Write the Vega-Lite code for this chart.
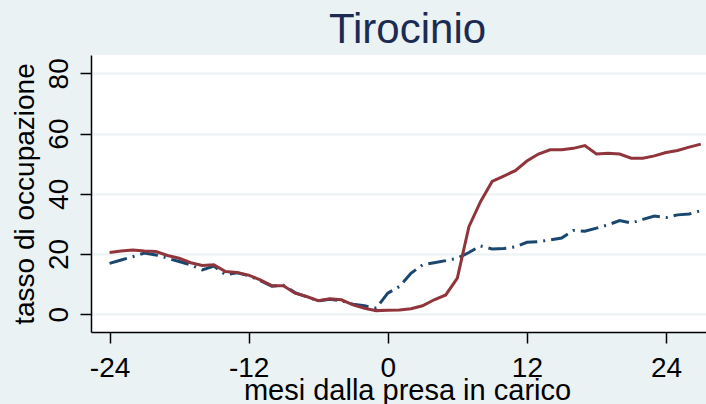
{
  "$schema": "https://vega.github.io/schema/vega-lite/v6.json",
  "width": 615,
  "height": 277,
  "autosize": {"type": "none"},
  "padding": {"left": 91, "top": 55, "right": 0, "bottom": 72},
  "background": "#EAF2F3",
  "view": {"fill": "white", "stroke": null},
  "title": {"text": "Tirocinio", "font": "Liberation Sans", "fontSize": 42, "fontWeight": "normal", "color": "#1C2B52", "dx": 9, "offset": 3, "anchor": "middle"},
  "config": {
    "axis": {
      "labelFont": "Liberation Sans", "titleFont": "Liberation Sans",
      "labelFontSize": 28, "titleFontSize": 28, "titleFontWeight": "normal",
      "labelColor": "black", "titleColor": "black",
      "domainColor": "black", "domainWidth": 1.5,
      "tickColor": "black", "tickWidth": 1.5, "tickSize": 11
    }
  },
  "data": {
    "values": [
      {"mese": -24, "gruppo": "controllo", "tasso": 16.9},
      {"mese": -23, "gruppo": "controllo", "tasso": 18.0},
      {"mese": -22, "gruppo": "controllo", "tasso": 19.1},
      {"mese": -21, "gruppo": "controllo", "tasso": 20.3},
      {"mese": -20, "gruppo": "controllo", "tasso": 19.7},
      {"mese": -19, "gruppo": "controllo", "tasso": 18.6},
      {"mese": -18, "gruppo": "controllo", "tasso": 17.5},
      {"mese": -17, "gruppo": "controllo", "tasso": 16.4},
      {"mese": -16, "gruppo": "controllo", "tasso": 14.7},
      {"mese": -15, "gruppo": "controllo", "tasso": 16.0},
      {"mese": -14, "gruppo": "controllo", "tasso": 13.1},
      {"mese": -13, "gruppo": "controllo", "tasso": 13.8},
      {"mese": -12, "gruppo": "controllo", "tasso": 12.8},
      {"mese": -11, "gruppo": "controllo", "tasso": 11.2},
      {"mese": -10, "gruppo": "controllo", "tasso": 9.3},
      {"mese": -9, "gruppo": "controllo", "tasso": 9.6},
      {"mese": -8, "gruppo": "controllo", "tasso": 7.2},
      {"mese": -7, "gruppo": "controllo", "tasso": 5.8},
      {"mese": -6, "gruppo": "controllo", "tasso": 4.4},
      {"mese": -5, "gruppo": "controllo", "tasso": 5.0},
      {"mese": -4, "gruppo": "controllo", "tasso": 4.5},
      {"mese": -3, "gruppo": "controllo", "tasso": 3.3},
      {"mese": -2, "gruppo": "controllo", "tasso": 2.8},
      {"mese": -1, "gruppo": "controllo", "tasso": 2.0},
      {"mese": 0, "gruppo": "controllo", "tasso": 7.0},
      {"mese": 1, "gruppo": "controllo", "tasso": 9.2},
      {"mese": 2, "gruppo": "controllo", "tasso": 13.6},
      {"mese": 3, "gruppo": "controllo", "tasso": 16.4},
      {"mese": 4, "gruppo": "controllo", "tasso": 17.1},
      {"mese": 5, "gruppo": "controllo", "tasso": 17.8},
      {"mese": 6, "gruppo": "controllo", "tasso": 18.6},
      {"mese": 7, "gruppo": "controllo", "tasso": 20.5},
      {"mese": 8, "gruppo": "controllo", "tasso": 22.7},
      {"mese": 9, "gruppo": "controllo", "tasso": 21.7},
      {"mese": 10, "gruppo": "controllo", "tasso": 21.8},
      {"mese": 11, "gruppo": "controllo", "tasso": 22.4},
      {"mese": 12, "gruppo": "controllo", "tasso": 23.9},
      {"mese": 13, "gruppo": "controllo", "tasso": 24.1},
      {"mese": 14, "gruppo": "controllo", "tasso": 24.7},
      {"mese": 15, "gruppo": "controllo", "tasso": 25.3},
      {"mese": 16, "gruppo": "controllo", "tasso": 27.8},
      {"mese": 17, "gruppo": "controllo", "tasso": 27.6},
      {"mese": 18, "gruppo": "controllo", "tasso": 28.6},
      {"mese": 19, "gruppo": "controllo", "tasso": 29.7},
      {"mese": 20, "gruppo": "controllo", "tasso": 31.1},
      {"mese": 21, "gruppo": "controllo", "tasso": 30.3},
      {"mese": 22, "gruppo": "controllo", "tasso": 31.5},
      {"mese": 23, "gruppo": "controllo", "tasso": 32.6},
      {"mese": 24, "gruppo": "controllo", "tasso": 32.1},
      {"mese": 25, "gruppo": "controllo", "tasso": 33.0},
      {"mese": 26, "gruppo": "controllo", "tasso": 33.3},
      {"mese": 27, "gruppo": "controllo", "tasso": 34.4},
      {"mese": -24, "gruppo": "tirocinio", "tasso": 20.5},
      {"mese": -23, "gruppo": "tirocinio", "tasso": 21.0},
      {"mese": -22, "gruppo": "tirocinio", "tasso": 21.3},
      {"mese": -21, "gruppo": "tirocinio", "tasso": 21.0},
      {"mese": -20, "gruppo": "tirocinio", "tasso": 20.8},
      {"mese": -19, "gruppo": "tirocinio", "tasso": 19.5},
      {"mese": -18, "gruppo": "tirocinio", "tasso": 18.6},
      {"mese": -17, "gruppo": "tirocinio", "tasso": 17.1},
      {"mese": -16, "gruppo": "tirocinio", "tasso": 16.2},
      {"mese": -15, "gruppo": "tirocinio", "tasso": 16.4},
      {"mese": -14, "gruppo": "tirocinio", "tasso": 14.2},
      {"mese": -13, "gruppo": "tirocinio", "tasso": 13.9},
      {"mese": -12, "gruppo": "tirocinio", "tasso": 13.0},
      {"mese": -11, "gruppo": "tirocinio", "tasso": 11.4},
      {"mese": -10, "gruppo": "tirocinio", "tasso": 9.5},
      {"mese": -9, "gruppo": "tirocinio", "tasso": 9.5},
      {"mese": -8, "gruppo": "tirocinio", "tasso": 7.0},
      {"mese": -7, "gruppo": "tirocinio", "tasso": 5.9},
      {"mese": -6, "gruppo": "tirocinio", "tasso": 4.5},
      {"mese": -5, "gruppo": "tirocinio", "tasso": 5.1},
      {"mese": -4, "gruppo": "tirocinio", "tasso": 4.8},
      {"mese": -3, "gruppo": "tirocinio", "tasso": 3.1},
      {"mese": -2, "gruppo": "tirocinio", "tasso": 2.0},
      {"mese": -1, "gruppo": "tirocinio", "tasso": 1.2},
      {"mese": 0, "gruppo": "tirocinio", "tasso": 1.3},
      {"mese": 1, "gruppo": "tirocinio", "tasso": 1.4},
      {"mese": 2, "gruppo": "tirocinio", "tasso": 1.8},
      {"mese": 3, "gruppo": "tirocinio", "tasso": 2.8},
      {"mese": 4, "gruppo": "tirocinio", "tasso": 4.8},
      {"mese": 5, "gruppo": "tirocinio", "tasso": 6.4},
      {"mese": 6, "gruppo": "tirocinio", "tasso": 12.0},
      {"mese": 7, "gruppo": "tirocinio", "tasso": 29.1},
      {"mese": 8, "gruppo": "tirocinio", "tasso": 37.4},
      {"mese": 9, "gruppo": "tirocinio", "tasso": 44.1},
      {"mese": 10, "gruppo": "tirocinio", "tasso": 45.9},
      {"mese": 11, "gruppo": "tirocinio", "tasso": 47.7},
      {"mese": 12, "gruppo": "tirocinio", "tasso": 50.9},
      {"mese": 13, "gruppo": "tirocinio", "tasso": 53.2},
      {"mese": 14, "gruppo": "tirocinio", "tasso": 54.6},
      {"mese": 15, "gruppo": "tirocinio", "tasso": 54.6},
      {"mese": 16, "gruppo": "tirocinio", "tasso": 55.1},
      {"mese": 17, "gruppo": "tirocinio", "tasso": 56.0},
      {"mese": 18, "gruppo": "tirocinio", "tasso": 53.2},
      {"mese": 19, "gruppo": "tirocinio", "tasso": 53.5},
      {"mese": 20, "gruppo": "tirocinio", "tasso": 53.2},
      {"mese": 21, "gruppo": "tirocinio", "tasso": 51.8},
      {"mese": 22, "gruppo": "tirocinio", "tasso": 51.8},
      {"mese": 23, "gruppo": "tirocinio", "tasso": 52.6},
      {"mese": 24, "gruppo": "tirocinio", "tasso": 53.7},
      {"mese": 25, "gruppo": "tirocinio", "tasso": 54.4},
      {"mese": 26, "gruppo": "tirocinio", "tasso": 55.5},
      {"mese": 27, "gruppo": "tirocinio", "tasso": 56.5}
    ]
  },
  "encoding": {
    "x": {
      "field": "mese", "type": "quantitative",
      "scale": {"domain": [-25.6, 27.45], "nice": false, "zero": false},
      "axis": {"values": [-24, -12, 0, 12, 24], "labelExpr": "datum.value + ''", "grid": false, "title": "mesi dalla presa in carico", "titleFontSize": 29, "labelPadding": 11, "titlePadding": -6, "titleX": 316}
    },
    "y": {
      "field": "tasso", "type": "quantitative",
      "scale": {"domain": [-5.9, 86.1], "nice": false, "zero": false},
      "axis": {"values": [0, 20, 40, 60, 80], "grid": true, "gridColor": "#EAF2F3", "gridWidth": 2, "labelAngle": -90, "labelAlign": "center", "labelBaseline": "alphabetic", "labelPadding": 13, "title": "tasso di occupazione", "titlePadding": 6}
    }
  },
  "layer": [
    {
      "transform": [{"filter": "datum.gruppo == 'controllo'"}],
      "mark": {"type": "line", "color": "#1A476F", "strokeWidth": 3, "strokeDash": [18, 6, 2, 6]}
    },
    {
      "transform": [{"filter": "datum.gruppo == 'tirocinio'"}],
      "mark": {"type": "line", "color": "#90353B", "strokeWidth": 3}
    }
  ]
}
